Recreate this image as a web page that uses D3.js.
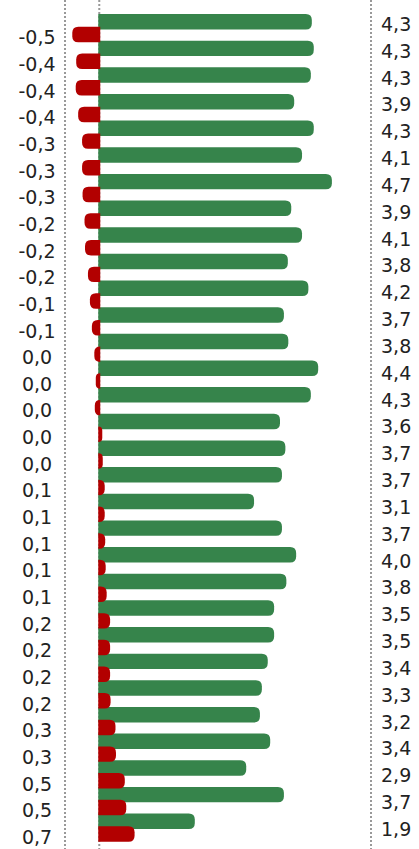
<!DOCTYPE html>
<html>
<head>
<meta charset="utf-8">
<script src="https://cdn.jsdelivr.net/npm/d3@7"></script>
<style>
  body { margin: 0; background: #fff; }
  svg { display: block; }
</style>
</head>
<body>
<div id="chart"></div>
<script>
const width = 419, height = 849;

// right column (green bars), one per row, top to bottom
const scores = [4.28, 4.32, 4.26, 3.92, 4.32, 4.08, 4.69, 3.86, 4.08, 3.79,
                4.21, 3.71, 3.80, 4.41, 4.26, 3.63, 3.74, 3.67, 3.10, 3.67,
                3.96, 3.76, 3.51, 3.51, 3.38, 3.26, 3.22, 3.43, 2.94, 3.71, 1.89];

// left column (red bars), same rows
const changes = [-0.49, -0.41, -0.42, -0.37, -0.29, -0.29, -0.28, -0.24, -0.23, -0.17,
                 -0.13, -0.09, -0.04, -0.01, -0.03, 0.00, 0.01, 0.05, 0.05, 0.06,
                 0.07, 0.09, 0.16, 0.16, 0.16, 0.17, 0.27, 0.28, 0.46, 0.49, 0.66];

const rows = d3.range(scores.length);

const green = '#36844b', red = '#b20000';

const fmt = v => {
    const r = Math.round(v * 10) / 10;
    return (r === 0 ? 0 : r).toFixed(1).replace('.', ',');
};

const svg = d3.select('#chart').append('svg')
    .attr('width', width)
    .attr('height', height);

const x = d3.scaleLinear()
    .domain([-0.7, 5.55])
    .range([65, 371]);

const y = d3.scaleBand()
    .domain(rows)
    .range([14, 840.2]);

const barH = y.bandwidth() * 0.58;
const redOffset = y.bandwidth() * 0.48;

const yRight = d3.scalePoint()
    .domain(rows)
    .range([24, 829]);

// dotted guides
[x.domain()[0], 0, x.domain()[1]].forEach(v => {
    svg.append('line')
        .attr('x1', x(v)).attr('x2', x(v))
        .attr('y1', 0).attr('y2', height)
        .attr('stroke', '#999')
        .attr('stroke-width', 2)
        .attr('stroke-dasharray', '2,2');
});

// bar with rounded outer end
function barPath(v, top) {
    const h = barH;
    if (v >= 0) {
        const a = x(0) - 1, b = x(v) + 3;
        const r = Math.min(6, b - a, h / 2);
        return `M${a},${top}H${b - r}Q${b},${top} ${b},${top + r}V${top + h - r}` +
               `Q${b},${top + h} ${b - r},${top + h}H${a}Z`;
    }
    const a = x(v) - 3, b = x(0) + 1;
    const r = Math.min(6, b - a, h / 2);
    return `M${b},${top}H${a + r}Q${a},${top} ${a},${top + r}V${top + h - r}` +
           `Q${a},${top + h} ${a + r},${top + h}H${b}Z`;
}

svg.append('g').selectAll('path')
    .data(rows)
    .join('path')
    .attr('d', i => barPath(scores[i], y(i)))
    .attr('fill', green);

svg.append('g').selectAll('path')
    .data(rows)
    .join('path')
    .attr('d', i => barPath(changes[i], y(i) + redOffset))
    .attr('fill', red);

// labels
const labelFont = '"DejaVu Sans", Verdana, sans-serif';

svg.append('g').selectAll('text')
    .data(rows)
    .join('text')
    .attr('x', 37)
    .attr('y', i => y(i) + redOffset + barH / 2 + 3)
    .attr('dy', '0.36em')
    .attr('text-anchor', 'middle')
    .style('font-family', labelFont)
    .style('font-size', '19px')
    .attr('fill', '#222')
    .text(i => fmt(changes[i]));

svg.append('g').selectAll('text')
    .data(rows)
    .join('text')
    .attr('x', 381)
    .attr('y', i => yRight(i))
    .attr('dy', '0.36em')
    .attr('text-anchor', 'start')
    .style('font-family', labelFont)
    .style('font-size', '19px')
    .attr('fill', '#222')
    .text(i => fmt(scores[i]));
</script>
</body>
</html>
